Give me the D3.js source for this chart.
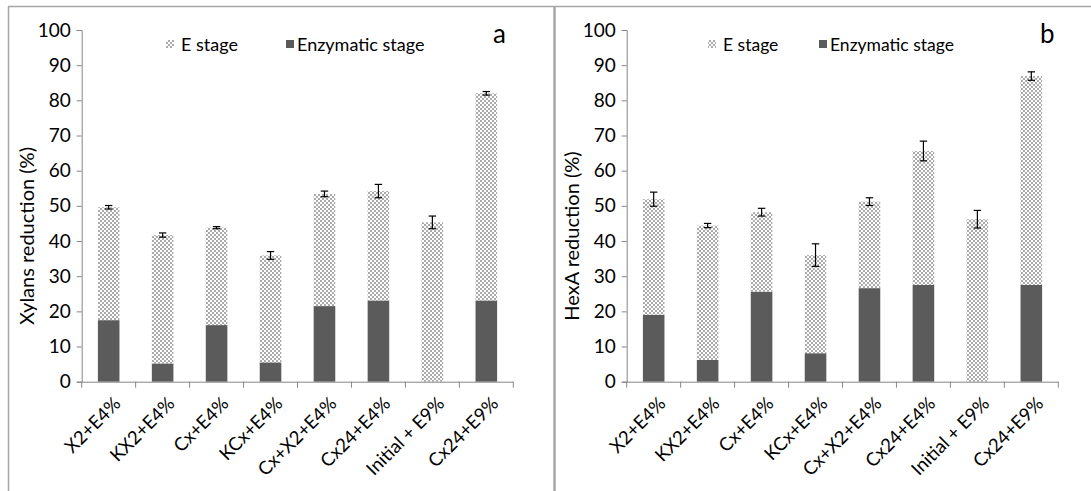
<!DOCTYPE html>
<html>
<head>
<meta charset="utf-8">
<script src="https://cdn.jsdelivr.net/npm/d3@7"></script>
<style>
  html, body { margin: 0; padding: 0; background: #fff; }
  svg { display: block; font-family: Lato, "Open Sans", sans-serif; }
</style>
</head>
<body>
<svg id="chart" width="1091" height="491"></svg>
<script>
// Treatments along the x axis (shared by both panels)
const categories = ["X2+E4%", "KX2+E4%", "Cx+E4%", "KCx+E4%", "Cx+X2+E4%", "Cx24+E4%", "Initial + E9%", "Cx24+E9%"];

// Panel a: xylans reduction (%)
const xylEnzymatic = [17.5, 5.2, 16.1, 5.5, 21.5, 23.1, 0, 23.1];
const xylEStage    = [32.1, 36.5, 27.7, 30.4, 31.9, 31.1, 45.3, 58.9];
const xylError     = [0.5, 0.6, 0.3, 1.1, 0.8, 1.9, 1.8, 0.5];

// Panel b: HexA reduction (%)
const hexEnzymatic = [19.0, 6.2, 25.6, 8.1, 26.6, 27.5, 0, 27.5];
const hexEStage    = [32.9, 38.2, 22.6, 27.9, 24.6, 38.1, 46.2, 59.4];
const hexError     = [2.0, 0.6, 1.1, 3.2, 1.1, 2.8, 2.5, 1.2];

const yTicks = [0, 10, 20, 30, 40, 50, 60, 70, 80, 90, 100];
const seriesNames = ["E stage", "Enzymatic stage"];

const svg = d3.select("#chart");

// Checkered fill for the E stage portion
const defs = svg.append("defs");
const pat = defs.append("pattern")
  .attr("id", "checker")
  .attr("patternUnits", "userSpaceOnUse")
  .attr("width", 4).attr("height", 4);
pat.append("rect").attr("width", 4).attr("height", 4).attr("fill", "#ffffff");
pat.append("rect").attr("x", 0).attr("y", 0).attr("width", 2).attr("height", 2).attr("fill", "#ababab");
pat.append("rect").attr("x", 2).attr("y", 2).attr("width", 2).attr("height", 2).attr("fill", "#ababab");

const darkFill = "#5b5b5b";
const frameColor = "#a6a6a6";

// Outer frame lines
svg.append("line").attr("x1", 8).attr("x2", 1091).attr("y1", 6.5).attr("y2", 6.5)
  .attr("stroke", frameColor).attr("stroke-width", 1.5);
svg.append("line").attr("x1", 8.5).attr("x2", 8.5).attr("y1", 6).attr("y2", 491)
  .attr("stroke", frameColor).attr("stroke-width", 1.5);
svg.append("line").attr("x1", 554.5).attr("x2", 554.5).attr("y1", 6).attr("y2", 491)
  .attr("stroke", frameColor).attr("stroke-width", 2.5);

function drawPanel(cfg) {
  const g = svg.append("g").attr("transform", `translate(${cfg.dx},0)`);
  const left = 81.7, right = 513.3, top = 30, bottom = 381.7;

  const x = d3.scaleBand().domain(categories).range([left, right])
    .paddingInner(0.6).paddingOuter(0.3);
  const y = d3.scaleLinear().domain([0, 100]).range([bottom, top]);

  const rows = categories.map((c, i) => ({
    cat: c, enz: cfg.enz[i], e: cfg.e[i], err: cfg.err[i]
  }));
  const stack = d3.stack().keys(["enz", "e"])(rows);

  // Stacked bars
  const fills = { enz: darkFill, e: "url(#checker)" };
  stack.forEach(layer => {
    g.append("g").selectAll("rect").data(layer).join("rect")
      .attr("x", d => x(d.data.cat))
      .attr("width", x.bandwidth())
      .attr("y", d => y(d[1]))
      .attr("height", d => y(d[0]) - y(d[1]))
      .attr("fill", fills[layer.key]);
  });

  // Error bars on the stacked total
  const eg = g.append("g").attr("stroke", "#000").attr("stroke-width", 1.2);
  rows.forEach(r => {
    const cx = x(r.cat) + x.bandwidth() / 2;
    const tot = r.enz + r.e;
    const y1 = y(tot + r.err), y2 = y(tot - r.err);
    eg.append("line").attr("x1", cx).attr("x2", cx).attr("y1", y1).attr("y2", y2);
    eg.append("line").attr("x1", cx - 3.7).attr("x2", cx + 3.7).attr("y1", y1).attr("y2", y1);
    eg.append("line").attr("x1", cx - 3.7).attr("x2", cx + 3.7).attr("y1", y2).attr("y2", y2);
  });

  // Y axis
  const yAxis = g.append("g").attr("transform", `translate(${left},0)`)
    .call(d3.axisLeft(y).tickValues(yTicks).tickSize(5).tickPadding(6));
  yAxis.select(".domain").attr("stroke", "#868686");
  yAxis.selectAll(".tick line").attr("stroke", "#868686");
  yAxis.selectAll(".tick text").attr("font-size", 19).attr("fill", "#000")
    .attr("font-family", "Lato, sans-serif");

  // X axis: ticks sit on the category boundaries
  const step = x.step();
  const edges = d3.range(categories.length + 1).map(i => left + i * step);
  g.append("line").attr("x1", left).attr("x2", right).attr("y1", bottom + 0.5).attr("y2", bottom + 0.5)
    .attr("stroke", "#868686");
  g.append("g").selectAll("line").data(edges).join("line")
    .attr("x1", d => d).attr("x2", d => d)
    .attr("y1", bottom).attr("y2", bottom + 6)
    .attr("stroke", "#868686");

  g.append("g").selectAll("text").data(categories).join("text")
    .attr("transform", d => `translate(${x(d) + x.bandwidth() / 2 + 4},${bottom + 14}) rotate(-45)`)
    .attr("text-anchor", "end")
    .attr("dy", "0.7em")
    .attr("font-size", 18.5)
    .attr("fill", "#000")
    .text(d => d);

  // Axis title
  g.append("text")
    .attr("transform", `translate(34,236) rotate(-90)`)
    .attr("text-anchor", "middle")
    .attr("font-size", 20)
    .attr("fill", "#000")
    .text(cfg.title);

  // Panel letter
  g.append("text").attr("x", cfg.letterX).attr("y", 43)
    .attr("font-size", 26).attr("fill", "#000").text(cfg.letter);

  // Legend
  const lg = g.append("g");
  lg.append("rect").attr("x", cfg.leg1).attr("y", 40).attr("width", 8).attr("height", 8).attr("fill", "url(#checker)");
  lg.append("text").attr("x", cfg.leg1 + 15).attr("y", 51).attr("font-size", cfg.legSize).attr("fill", "#000").text(seriesNames[0]);
  lg.append("rect").attr("x", cfg.leg2).attr("y", 40).attr("width", 8).attr("height", 8).attr("fill", darkFill);
  lg.append("text").attr("x", cfg.leg2 + 11).attr("y", 51).attr("font-size", cfg.legSize).attr("fill", "#000").text(seriesNames[1]);
}

drawPanel({ dx: 0, enz: xylEnzymatic, e: xylEStage, err: xylError,
  title: "Xylans reduction (%)", letter: "a", letterX: 493, leg1: 166, leg2: 286, legSize: 18 });
drawPanel({ dx: 545, enz: hexEnzymatic, e: hexEStage, err: hexError,
  title: "HexA reduction (%)", letter: "b", letterX: 495, leg1: 163, leg2: 274, legSize: 17.5 });
</script>
</body>
</html>
